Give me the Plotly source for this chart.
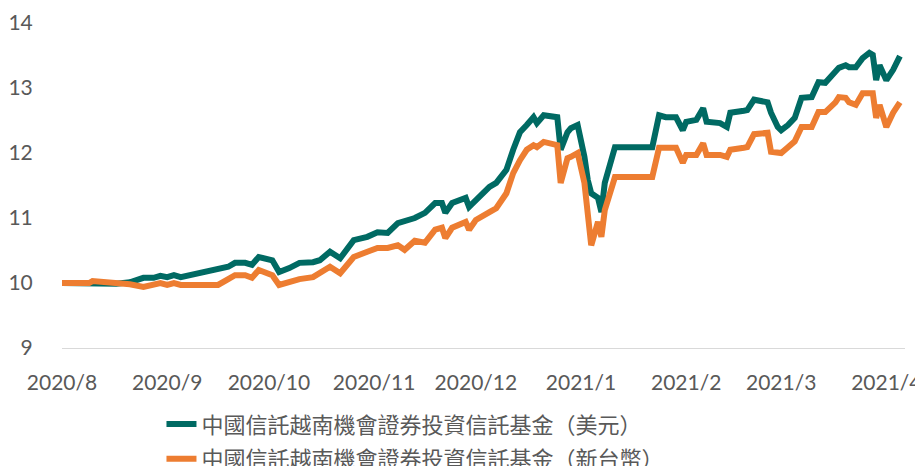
import plotly.graph_objects as go

dates = [
    "2020-08-01", "2020-08-09", "2020-08-10", "2020-08-13", "2020-08-17", "2020-08-21",
    "2020-08-25", "2020-08-28", "2020-08-30", "2020-09-01", "2020-09-03", "2020-09-05",
    "2020-09-08", "2020-09-12", "2020-09-16", "2020-09-19", "2020-09-21", "2020-09-24",
    "2020-09-26", "2020-09-28", "2020-10-02", "2020-10-04", "2020-10-07", "2020-10-10",
    "2020-10-14", "2020-10-16", "2020-10-19", "2020-10-22", "2020-10-26", "2020-10-30",
    "2020-11-02", "2020-11-05", "2020-11-08", "2020-11-10", "2020-11-13", "2020-11-16",
    "2020-11-19", "2020-11-21", "2020-11-22", "2020-11-24", "2020-11-28", "2020-11-29",
    "2020-12-01", "2020-12-05", "2020-12-07", "2020-12-10", "2020-12-12", "2020-12-14",
    "2020-12-16", "2020-12-18", "2020-12-19", "2020-12-21", "2020-12-25", "2020-12-26",
    "2020-12-28", "2020-12-29", "2020-12-31", "2021-01-02", "2021-01-03", "2021-01-04",
    "2021-01-06", "2021-01-07", "2021-01-08", "2021-01-10", "2021-01-11", "2021-01-22",
    "2021-01-24", "2021-01-26", "2021-01-29", "2021-01-31", "2021-02-01", "2021-02-04",
    "2021-02-06", "2021-02-07", "2021-02-11", "2021-02-13", "2021-02-14", "2021-02-18",
    "2021-02-19", "2021-02-21", "2021-02-25", "2021-02-26", "2021-02-28", "2021-03-01",
    "2021-03-03", "2021-03-05", "2021-03-07", "2021-03-10", "2021-03-12", "2021-03-14",
    "2021-03-17", "2021-03-18", "2021-03-20", "2021-03-21", "2021-03-23", "2021-03-25",
    "2021-03-27", "2021-03-28", "2021-03-29", "2021-03-30", "2021-04-01", "2021-04-03",
    "2021-04-05",
]

usd_values = [
    10.00, 10.00, 10.00, 9.98, 9.99, 10.01,
    10.08, 10.08, 10.11, 10.09, 10.12, 10.09,
    10.12, 10.17, 10.20, 10.25, 10.31, 10.31,
    10.28, 10.40, 10.35, 10.17, 10.23, 10.31,
    10.32, 10.35, 10.48, 10.38, 10.66, 10.71,
    10.78, 10.77, 10.92, 10.95, 11.00, 11.08,
    11.23, 11.23, 11.08, 11.23, 11.31, 11.17,
    11.28, 11.48, 11.54, 11.74, 12.05, 12.32,
    12.43, 12.55, 12.46, 12.58, 12.55, 12.05,
    12.32, 12.38, 12.43, 11.94, 11.58, 11.38,
    11.31, 11.09, 11.54, 11.89, 12.09, 12.09,
    12.58, 12.55, 12.55, 12.35, 12.48, 12.51,
    12.69, 12.48, 12.46, 12.40, 12.62, 12.65,
    12.66, 12.82, 12.78, 12.62, 12.40, 12.35,
    12.43, 12.54, 12.85, 12.86, 13.09, 13.08,
    13.23, 13.31, 13.35, 13.32, 13.32, 13.46,
    13.54, 13.51, 13.12, 13.35, 13.12, 13.28,
    13.49,
]

twd_values = [
    10.00, 10.00, 10.03, 10.02, 10.00, 9.98,
    9.94, 9.97, 10.00, 9.97, 10.00, 9.97,
    9.97, 9.97, 9.97, 10.06, 10.12, 10.12,
    10.08, 10.20, 10.12, 9.97, 10.02, 10.06,
    10.09, 10.15, 10.25, 10.15, 10.40, 10.48,
    10.54, 10.54, 10.58, 10.51, 10.65, 10.62,
    10.82, 10.85, 10.69, 10.85, 10.94, 10.82,
    10.97, 11.09, 11.15, 11.38, 11.69, 11.89,
    12.05, 12.12, 12.09, 12.17, 12.12, 11.54,
    11.92, 11.94, 12.00, 11.54, 11.02, 10.58,
    10.94, 10.71, 11.12, 11.48, 11.63, 11.63,
    12.08, 12.08, 12.08, 11.85, 11.97, 11.97,
    12.15, 11.97, 11.97, 11.94, 12.05, 12.08,
    12.09, 12.29, 12.31, 12.02, 12.00, 12.00,
    12.09, 12.18, 12.40, 12.40, 12.63, 12.63,
    12.78, 12.86, 12.85, 12.78, 12.74, 12.92,
    12.92, 12.92, 12.54, 12.74, 12.40, 12.62,
    12.78,
]

series_names = ["中國信託越南機會證券投資信託基金（美元）", "中國信託越南機會證券投資信託基金（新台幣）"]
series_colors = ["#006A63", "#ED7D31"]

tick_dates = ["2020-08-01", "2020-09-01", "2020-10-01", "2020-11-01", "2020-12-01",
              "2021-01-01", "2021-02-01", "2021-03-01", "2021-04-01"]
tick_labels = ["2020/8", "2020/9", "2020/10", "2020/11", "2020/12",
               "2021/1", "2021/2", "2021/3", "2021/4"]
y_ticks = [9, 10, 11, 12, 13, 14]

fig = go.Figure()
for i, (name, vals, col) in enumerate(zip(series_names, [usd_values, twd_values], series_colors)):
    fig.add_trace(go.Scatter(
        x=dates, y=vals, name=name, mode="lines", legendgroup=f"g{i}",
        line=dict(color=col, width=6),
    ))

# page body has an 8px default margin, so the figure is sized/offset to compensate
fig.update_layout(
    width=915, height=458,
    margin=dict(l=54, r=18, t=15, b=118, autoexpand=False),
    paper_bgcolor="white", plot_bgcolor="white",
    font=dict(family="Lato", size=21, color="#595959"),
    showlegend=True,
    legend=dict(
        orientation="v", x=0.118, xanchor="left", y=-0.17, yanchor="top",
        font=dict(family="Noto Sans CJK TC", size=22, color="#595959"),
        bgcolor="rgba(0,0,0,0)", traceorder="grouped", tracegroupgap=3,
    ),
)
fig.update_xaxes(
    type="date", range=["2020-08-01", "2021-04-06 12:00"],
    tickvals=tick_dates, ticktext=tick_labels, automargin=False,
    showgrid=False, zeroline=False,
    showline=True, linecolor="#D9D9D9", linewidth=1,
    ticks="outside", ticklen=16, tickcolor="rgba(0,0,0,0)",
    tickfont=dict(family="Lato", size=21, color="#595959"),
)
fig.update_yaxes(
    range=[9, 14], tickvals=y_ticks, automargin=False,
    showgrid=False, zeroline=False, showline=False,
    ticks="outside", ticklen=24, tickcolor="rgba(0,0,0,0)",
    tickfont=dict(family="Lato", size=21, color="#595959"),
)

fig.write_html("out.html")
